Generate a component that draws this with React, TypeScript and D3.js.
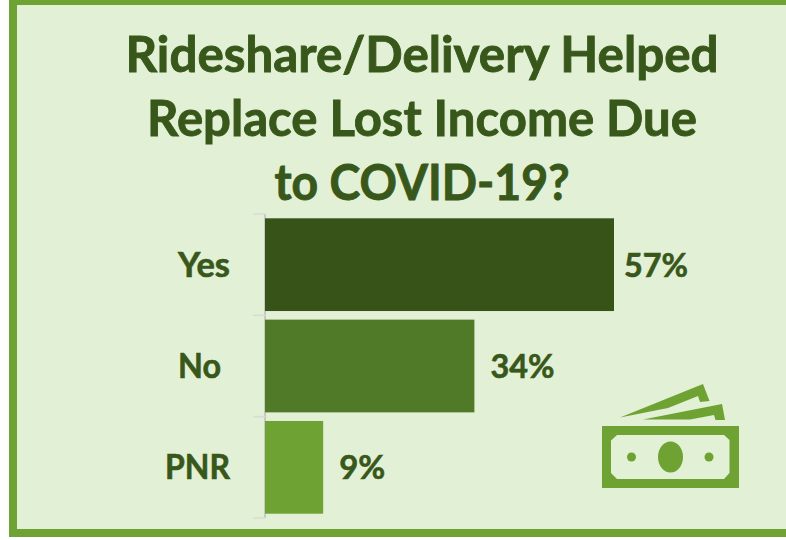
import React from "react";
import * as d3 from "d3";

const titleLines = ["Rideshare/Delivery Helped", "Replace Lost Income Due", "to COVID-19?"];
const titleWidths = [593, 550, 295];
const categories = ["Yes", "No", "PNR"];
const values = [57, 34.2, 9.5];
const valueLabels = ["57%", "34%", "9%"];
const barColors = ["#375317", "#507a28", "#6ea232"];
const labelEnds = [230, 221, 230];
const labelWidths = [52, 43, 65];
const labelGaps = [10, 16, 16];
const valueWidths = [64, 64, 46];

const FONT = "Lato, Carlito, 'Open Sans', sans-serif";
const TEXT = "#38571a";
const FRAME = "#6ea232";
const BG = "#e2f0d5";

export default function App() {
  const x = d3.scaleLinear().domain([0, 57]).range([265, 614]);
  const y = d3.scaleBand<string>().domain(categories).range([214, 518]).paddingInner(0.085).paddingOuter(0.0425);
  const step = y.step();
  const ticks = d3.range(categories.length + 1).map((i) => 214 + i * step);
  return (
    <svg width={786} height={540} style={{ position: "fixed", left: 0, top: 0, display: "block", background: "#fff" }}>
      <rect x={9} y={0} width={790} height={537} fill={FRAME} />
      <rect x={17} y={5} width={790} height={524} fill={BG} />
      {titleLines.map((t, i) => (
        <text key={t} x={422} y={72 + i * 64} textAnchor="middle" fontFamily={FONT} fontWeight={700} fontSize={49.5} fill={TEXT} stroke={TEXT} strokeWidth={0.9} textLength={titleWidths[i]} lengthAdjust="spacingAndGlyphs">
          {t}
        </text>
      ))}
      <line x1={265} x2={265} y1={ticks[0]} y2={ticks[3]} stroke="#c8cac6" strokeWidth={2} />
      {ticks.map((t) => (
        <line key={t} x1={253} x2={265} y1={t} y2={t} stroke="#d9dcd6" strokeWidth={1.5} />
      ))}
      {categories.map((c, i) => (
        <g key={c}>
          <rect x={x(0)} y={y(c)} width={x(values[i]) - x(0)} height={y.bandwidth()} fill={barColors[i]} />
          <text x={labelEnds[i]} y={y(c)! + y.bandwidth() / 2 + 12} textAnchor="end" fontFamily={FONT} fontWeight={700} fontSize={34} fill={TEXT} stroke={TEXT} strokeWidth={0.6} textLength={labelWidths[i]} lengthAdjust="spacingAndGlyphs">
            {c}
          </text>
          <text x={x(values[i]) + labelGaps[i]} y={y(c)! + y.bandwidth() / 2 + 12} fontFamily={FONT} fontWeight={700} fontSize={33} fill={TEXT} stroke={TEXT} strokeWidth={0.6} textLength={valueWidths[i]} lengthAdjust="spacingAndGlyphs">
            {valueLabels[i]}
          </text>
        </g>
      ))}
      <g fill={FRAME}>
        <path d="M620 417.5 L703 384 L709.5 401 L700 402 L698 396 L668 408 Z" />
        <path d="M643 419.5 L722 404 L725 420 L715.5 420 L714 415 L690 419.5 Z" />
        <path
          fillRule="evenodd"
          d="M602 426 H739 V488 H602 Z M617 435 L611 440.5 V473 L617 479 H724 L729.5 473 V440 L724 435 Z"
        />
        <ellipse cx={670.5} cy={457} rx={12.5} ry={15.5} />
        <circle cx={631.5} cy={457} r={4.5} />
        <circle cx={709} cy={457} r={4.5} />
      </g>
    </svg>
  );
}
